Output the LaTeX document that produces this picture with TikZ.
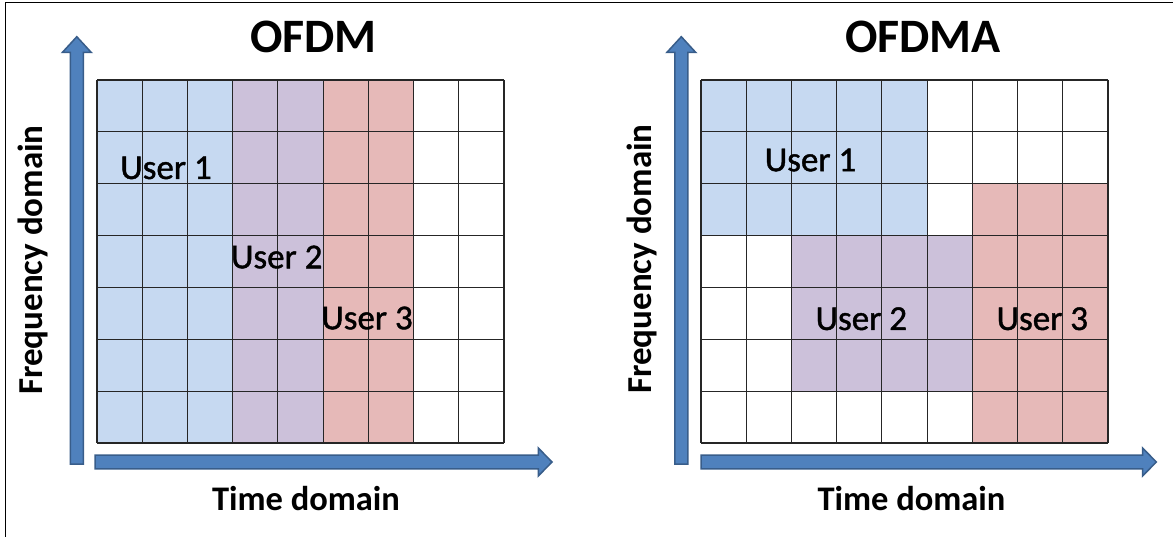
\documentclass[tikz,border=0pt]{standalone}
\usepackage{fontspec}
\setmainfont{Carlito}
\newfontfamily\usrfont{Carlito}[FakeBold=1.2]
\definecolor{ublue}{RGB}{198,217,241}
\definecolor{upurple}{RGB}{204,193,218}
\definecolor{ured}{RGB}{230,185,184}
\definecolor{arrfill}{RGB}{79,129,189}
\definecolor{arredge}{RGB}{56,93,138}
\newcommand\cellw{45.22}
\newcommand\cellh{51.857}
\newcommand\myvaxis[4]{% x centre, y bottom, y head base, y tip
  \draw[axarrow] ({#1-6.5},#2) -- ({#1-6.5},#3) -- ({#1-14.5},#3) -- (#1,#4)
    -- ({#1+14.5},#3) -- ({#1+6.5},#3) -- ({#1+6.5},#2) -- cycle;}
\newcommand\myhaxis[4]{% y centre, x left, x head base, x tip
  \draw[axarrow] (#2,{#1-6.8}) -- (#3,{#1-6.8}) -- (#3,{#1-14}) -- (#4,#1)
    -- (#3,{#1+14}) -- (#3,{#1+6.8}) -- (#2,{#1+6.8}) -- cycle;}
\begin{document}
\begin{tikzpicture}[x=1pt,y=-1pt,
  gridln/.style={line width=1.2pt, draw=black!85},
  axarrow/.style={fill=arrfill, draw=arredge, line width=1.5pt, line join=miter},
  title/.style={anchor=base, inner sep=0pt, font=\fontsize{48}{56}\selectfont\bfseries},
  axlabel/.style={anchor=base, inner sep=0pt, font=\fontsize{34.5}{40}\selectfont\bfseries},
  freqlbl/.style={anchor=base, inner sep=0pt, font=\fontsize{35}{40}\selectfont\bfseries},
  userlbl/.style={anchor=base, inner sep=0pt, font=\fontsize{35}{42}\usrfont}]
\useasboundingbox (0,0) rectangle (1173,537);
\fill[white] (0,0) rectangle (1173,537);
\draw[line width=1.5pt, black] (5.5,537) -- (5.5,2.5) -- (1173,2.5);

% ---- OFDM (left) ----
\fill[ublue]   (97,80) rectangle ({97+3*\cellw},443);
\fill[upurple] ({97+3*\cellw},80) rectangle ({97+5*\cellw},443);
\fill[ured]    ({97+5*\cellw},80) rectangle ({97+7*\cellw},443);
\foreach \i in {0,...,9} \draw[gridln] ({97+\i*\cellw},80) -- ({97+\i*\cellw},443);
\foreach \j in {0,...,7} \draw[gridln] (97,{80+\j*\cellh}) -- ({97+9*\cellw},{80+\j*\cellh});
\myvaxis{76.8}{464}{52.5}{36.7}
\myhaxis{462}{95}{538.3}{552}
\node[title] (t1) at (313.5,52.7) {OFDM};
\node[freqlbl, rotate=90] (f1) at (42.7,260) {Frequency domain};
\node[axlabel] (x1) at (306,510.7) {Time domain};
\node[userlbl] (u11) at (166,179) {User 1};
\node[userlbl] (u12) at (276.7,268.3) {User 2};
\node[userlbl] (u13) at (367,329.3) {User 3};

% ---- OFDMA (right) ----
\fill[ublue]   (701,80) rectangle ({701+5*\cellw},{80+3*\cellh});
\fill[upurple] ({701+2*\cellw},{80+3*\cellh}) rectangle ({701+6*\cellw},{80+6*\cellh});
\fill[ured]    ({701+6*\cellw},{80+2*\cellh}) rectangle ({701+9*\cellw},443);
\foreach \i in {0,...,9} \draw[gridln] ({701+\i*\cellw},80) -- ({701+\i*\cellw},443);
\foreach \j in {0,...,7} \draw[gridln] (701,{80+\j*\cellh}) -- ({701+9*\cellw},{80+\j*\cellh});
\myvaxis{681.3}{464}{52.5}{36.7}
\myhaxis{462}{701}{1142.6}{1156.3}
\node[title] (t2) at (923,52.7) {OFDMA};
\node[freqlbl, rotate=90] (f2) at (651,259) {Frequency domain};
\node[axlabel] (x2) at (911.5,510.3) {Time domain};
\node[userlbl] (u21) at (810.5,171.2) {User 1};
\node[userlbl] (u22) at (861.3,330) {User 2};
\node[userlbl] (u23) at (1042.3,330) {User 3};
\end{tikzpicture}
\end{document}
